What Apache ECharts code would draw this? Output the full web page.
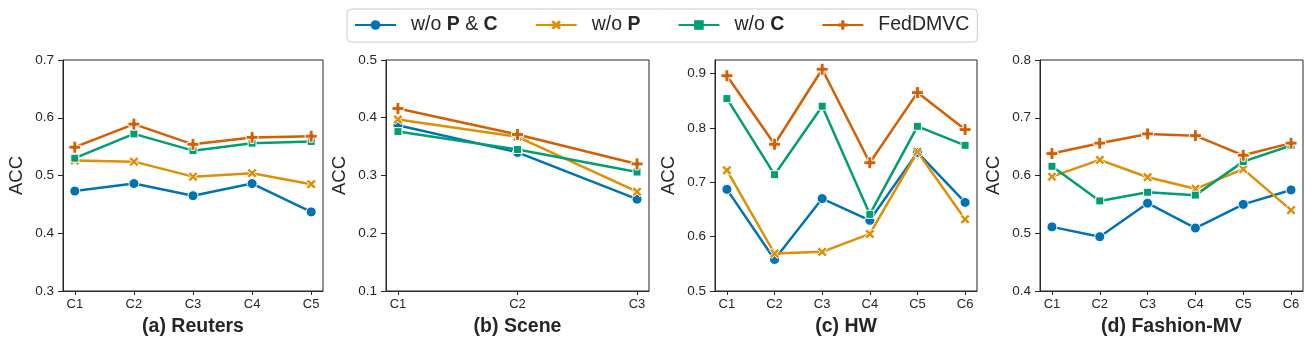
<!DOCTYPE html>
<html>
<head>
<meta charset="utf-8">
<script src="https://cdn.jsdelivr.net/npm/echarts@6/dist/echarts.min.js"></script>
<style>
  html, body { margin: 0; padding: 0; background: #fff; }
  #main { width: 1312px; height: 346px; }
</style>
</head>
<body>
<div id="main"></div>
<script>
// series names + palette (seaborn colorblind)
const methods = ['w/o P & C', 'w/o P', 'w/o C', 'FedDMVC'];
const colors = ['#0173b2', '#de8f05', '#029e73', '#d55e00'];

// (a) Reuters
const reutersCats = ['C1', 'C2', 'C3', 'C4', 'C5'];
const reutersNoPC = [0.473, 0.486, 0.465, 0.486, 0.437];
const reutersNoP  = [0.526, 0.524, 0.498, 0.504, 0.485];
const reutersNoC  = [0.530, 0.572, 0.543, 0.556, 0.559];
const reutersFed  = [0.549, 0.589, 0.554, 0.566, 0.568];

// (b) Scene
const sceneCats = ['C1', 'C2', 'C3'];
const sceneNoPC = [0.387, 0.340, 0.259];
const sceneNoP  = [0.397, 0.367, 0.272];
const sceneNoC  = [0.376, 0.345, 0.306];
const sceneFed  = [0.416, 0.371, 0.320];

// (c) HW
const hwCats = ['C1', 'C2', 'C3', 'C4', 'C5', 'C6'];
const hwNoPC = [0.687, 0.558, 0.670, 0.630, 0.755, 0.663];
const hwNoP  = [0.722, 0.569, 0.572, 0.605, 0.756, 0.632];
const hwNoC  = [0.854, 0.714, 0.840, 0.641, 0.803, 0.768];
const hwFed  = [0.896, 0.770, 0.908, 0.736, 0.865, 0.797];

// (d) Fashion-MV
const fmCats = ['C1', 'C2', 'C3', 'C4', 'C5', 'C6'];
const fmNoPC = [0.511, 0.494, 0.552, 0.509, 0.550, 0.575];
const fmNoP  = [0.598, 0.627, 0.597, 0.577, 0.611, 0.540];
const fmNoC  = [0.616, 0.556, 0.571, 0.566, 0.624, 0.652];
const fmFed  = [0.638, 0.656, 0.672, 0.669, 0.635, 0.656];

const titles = ['(a) Reuters', '(b) Scene', '(c) HW', '(d) Fashion-MV'];
const yTicks = [
  [0.3, 0.4, 0.5, 0.6, 0.7],
  [0.1, 0.2, 0.3, 0.4, 0.5],
  [0.5, 0.6, 0.7, 0.8, 0.9],
  [0.4, 0.5, 0.6, 0.7, 0.8]
];
const yRanges = [[0.3, 0.7], [0.1, 0.5], [0.5, 0.925], [0.4, 0.8]];

const panels = [
  { cats: reutersCats, vals: [reutersNoPC, reutersNoP, reutersNoC, reutersFed] },
  { cats: sceneCats, vals: [sceneNoPC, sceneNoP, sceneNoC, sceneFed] },
  { cats: hwCats, vals: [hwNoPC, hwNoP, hwNoC, hwFed] },
  { cats: fmCats, vals: [fmNoPC, fmNoP, fmNoC, fmFed] }
];

const gridLefts = [63, 386, 715, 1040];
const gridWidths = [260, 263, 262, 263];

const xPath = 'path://M0,2.2L2.2,0L5,2.8L7.8,0L10,2.2L7.2,5L10,7.8L7.8,10L5,7.2L2.2,10L0,7.8L2.8,5Z';
const plusPath = 'path://M3.4,0H6.6V3.4H10V6.6H6.6V10H3.4V6.6H0V3.4H3.4Z';
const symbols = ['circle', xPath, 'rect', plusPath];
const symbolSizes = [10, 10, 8, 12];

const ink = '#262626';
const font = 'Liberation Sans, Arial, sans-serif';

const legendText = {
  'w/o P & C': 'w/o {b|P} & {b|C}',
  'w/o P': 'w/o {b|P}',
  'w/o C': 'w/o {b|C}',
  'FedDMVC': 'FedDMVC'
};

const grids = [], xAxes = [], yAxes = [], series = [];
panels.forEach((p, k) => {
  const n = p.cats.length;
  const pad = (n - 1) * 0.05;
  const idx = p.cats.map((c, i) => i);
  grids.push({
    left: gridLefts[k], width: gridWidths[k], top: 60, height: 231,
    show: true, borderColor: ink, borderWidth: 1, backgroundColor: 'transparent'
  });
  xAxes.push({
    type: 'value', gridIndex: k, min: -pad, max: n - 1 + pad,
    name: titles[k], nameLocation: 'middle', nameGap: 26,
    nameTextStyle: { fontSize: 19.5, fontWeight: 'bold', color: ink, fontFamily: font },
    axisLine: { show: true, onZero: false, lineStyle: { color: ink, width: 1 } },
    axisTick: { show: true, length: 4, customValues: idx, lineStyle: { color: ink } },
    axisLabel: {
      customValues: idx, margin: 7, fontSize: 13, color: ink, fontFamily: font,
      formatter: v => p.cats[Math.round(v)]
    },
    splitLine: { show: false }
  });
  yAxes.push({
    type: 'value', gridIndex: k, min: yRanges[k][0], max: yRanges[k][1],
    name: 'ACC', nameLocation: 'middle', nameGap: 37,
    nameTextStyle: { fontSize: 18.5, color: ink, fontFamily: font },
    axisLine: { show: true, onZero: false, lineStyle: { color: ink, width: 1 } },
    axisTick: { show: true, length: 5, customValues: yTicks[k], lineStyle: { color: ink } },
    axisLabel: {
      customValues: yTicks[k], margin: 9, fontSize: 13.5, color: ink, fontFamily: font,
      formatter: v => v.toFixed(1)
    },
    splitLine: { show: false }
  });
  p.vals.forEach((vals, m) => {
    series.push({
      name: methods[m], type: 'line', xAxisIndex: k, yAxisIndex: k,
      data: vals.map((v, i) => [i, v]),
      symbol: symbols[m], symbolSize: symbolSizes[m],
      lineStyle: { color: colors[m], width: 2.5 },
      itemStyle: { color: colors[m], borderColor: '#fff', borderWidth: 1 },
      emphasis: { disabled: true }
    });
  });
});

const chart = echarts.init(document.getElementById('main'));
chart.setOption({
  animation: false,
  backgroundColor: '#fff',
  textStyle: { fontFamily: font },
  legend: {
    data: methods,
    left: 347, top: 9,
    padding: [6, 8, 7, 7],
    itemWidth: 41, itemHeight: 12, itemGap: 37,
    borderColor: '#cccccc', borderWidth: 1, borderRadius: 4,
    backgroundColor: '#fff',
    lineStyle: { width: 2 },
    itemStyle: { borderWidth: 0 },
    formatter: name => legendText[name],
    textStyle: {
      fontSize: 19.5, color: ink, fontFamily: font, padding: [0, 0, 0, 10],
      rich: { b: { fontSize: 19.5, fontWeight: 'bold', color: ink, fontFamily: font } }
    }
  },
  grid: grids,
  xAxis: xAxes,
  yAxis: yAxes,
  series: series
});
</script>
</body>
</html>
